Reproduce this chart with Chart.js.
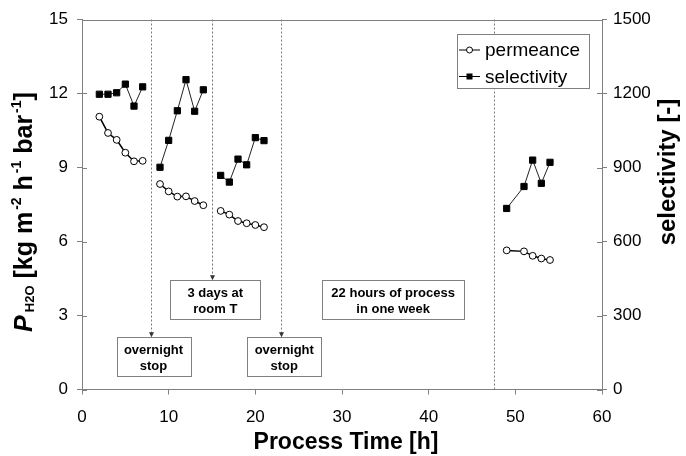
<!DOCTYPE html>
<html>
<head>
<meta charset="utf-8">
<script src="https://cdn.jsdelivr.net/npm/chart.js@4.4.0/dist/chart.umd.min.js"></script>
<style>
  html, body { margin: 0; padding: 0; background: #fff; }
  #wrap { width: 686px; height: 456px; }
</style>
</head>
<body>
<div id="wrap"><canvas id="chart" width="686" height="456"></canvas></div>
<script>
// process runs: time [h], water permeance [kg m-2 h-1 bar-1], selectivity [-]
const run1Time = [2, 3, 4, 5, 6, 7];
const run1Perm = [11.06, 10.40, 10.12, 9.60, 9.25, 9.27];
const run1Sel = [1197, 1197, 1203, 1238, 1149, 1227];

const run2Time = [9, 10, 11, 12, 13, 14];
const run2Perm = [8.33, 8.03, 7.82, 7.83, 7.64, 7.47];
const run2Sel = [901, 1010, 1130, 1256, 1128, 1215];

const run3Time = [16, 17, 18, 19, 20, 21];
const run3Perm = [7.24, 7.09, 6.83, 6.74, 6.67, 6.58];
const run3Sel = [868, 841, 934, 911, 1021, 1009];

const run4Time = [49, 51, 52, 53, 54];
const run4Perm = [5.64, 5.60, 5.42, 5.31, 5.25];
const run4Sel = [734, 823, 930, 836, 921];

const xTicks = [0, 10, 20, 30, 40, 50, 60];
const permTicks = [0, 3, 6, 9, 12, 15];
const selTicks = [0, 300, 600, 900, 1200, 1500];

// interruptions of the process (time in h) and their notes
const stopTimes = [8, 15, 23, 47.5];
const stopNotes = [['overnight', 'stop'], ['3 days at', 'room T'], ['overnight', 'stop'], ['22 hours of process', 'in one week']];

const FONT = "'Liberation Sans', Arial, sans-serif";
const AXIS = '#808080';

const runs = [
  [run1Time, run1Perm, run1Sel],
  [run2Time, run2Perm, run2Sel],
  [run3Time, run3Perm, run3Sel],
  [run4Time, run4Perm, run4Sel]
];

const datasets = [];
runs.forEach(([t, p, s]) => {
  datasets.push({
    label: 'permeance',
    yAxisID: 'y',
    data: t.map((v, i) => ({x: v, y: p[i]})),
    showLine: true,
    borderColor: '#000',
    borderWidth: 1.5,
    pointStyle: 'circle',
    pointRadius: 3.4,
    pointBackgroundColor: '#fff',
    pointBorderColor: '#000',
    pointBorderWidth: 1
  });
  datasets.push({
    label: 'selectivity',
    yAxisID: 'y2',
    data: t.map((v, i) => ({x: v, y: s[i]})),
    showLine: true,
    borderColor: '#222',
    borderWidth: 1,
    pointStyle: 'rect',
    pointRadius: 4.4,
    pointBackgroundColor: '#000',
    pointBorderColor: '#000',
    pointBorderWidth: 1
  });
});

// where the note boxes sit: centre x and top y in data units, size in px
const boxes = [
  {x: 8.25, top: 2.12, w: 74, h: 39, arrow: true},
  {x: 15.38, top: 4.43, w: 90, h: 39, arrow: true},
  {x: 23.34, top: 2.12, w: 74, h: 39, arrow: true},
  {x: 35.9, top: 4.43, w: 142, h: 39, arrow: false}
];

const decor = {
  id: 'decor',
  beforeDatasetsDraw(chart) {
    const {ctx, chartArea: a, scales: {x, y}} = chart;
    ctx.save();
    ctx.strokeStyle = '#7a7a7a';
    ctx.lineWidth = 1;
    ctx.setLineDash([2, 2]);
    stopTimes.forEach((t, i) => {
      const px = Math.round(x.getPixelForValue(t)) + 0.5;
      const b = boxes[i];
      const end = b.arrow ? y.getPixelForValue(b.top) - 1 : a.bottom;
      ctx.beginPath();
      ctx.moveTo(px, a.top);
      ctx.lineTo(px, end);
      ctx.stroke();
    });
    ctx.setLineDash([]);
    ctx.fillStyle = '#333';
    stopTimes.forEach((t, i) => {
      const b = boxes[i];
      if (!b.arrow) return;
      const px = Math.round(x.getPixelForValue(t)) + 0.5;
      const end = y.getPixelForValue(b.top);
      ctx.beginPath();
      ctx.moveTo(px - 2.5, end - 5);
      ctx.lineTo(px + 2.5, end - 5);
      ctx.lineTo(px, end);
      ctx.closePath();
      ctx.fill();
    });
    ctx.restore();
  },
  afterDatasetsDraw(chart) {
    const {ctx, chartArea: a, scales: {x, y, y2}} = chart;
    ctx.save();
    // frame top + inward ticks
    ctx.strokeStyle = AXIS;
    ctx.lineWidth = 1;
    ctx.beginPath();
    ctx.moveTo(a.left, Math.round(a.top) + 0.5);
    ctx.lineTo(a.right, Math.round(a.top) + 0.5);
    permTicks.forEach(v => {
      const py = Math.round(y.getPixelForValue(v)) + 0.5;
      ctx.moveTo(a.left, py);
      ctx.lineTo(a.left + 5, py);
    });
    selTicks.forEach(v => {
      const py = Math.round(y2.getPixelForValue(v)) + 0.5;
      ctx.moveTo(a.right, py);
      ctx.lineTo(a.right - 5, py);
    });
    ctx.stroke();

    // note boxes
    ctx.font = 'bold 13px ' + FONT;
    ctx.textAlign = 'center';
    ctx.textBaseline = 'middle';
    boxes.forEach((b, i) => {
      const cx = x.getPixelForValue(b.x);
      const top = Math.round(y.getPixelForValue(b.top)) + 0.5;
      const left = Math.round(cx - b.w / 2) + 0.5;
      ctx.fillStyle = '#fff';
      ctx.fillRect(left, top, b.w, b.h);
      ctx.strokeStyle = AXIS;
      ctx.strokeRect(left, top, b.w, b.h);
      ctx.fillStyle = '#000';
      const lines = stopNotes[i];
      ctx.fillText(lines[0], cx, top + 12.5);
      ctx.fillText(lines[1], cx, top + 29);
    });

    // legend
    const lx = 457.5, ly = 34.5, lw = 132, lh = 54;
    ctx.fillStyle = '#fff';
    ctx.fillRect(lx, ly, lw, lh);
    ctx.strokeStyle = AXIS;
    ctx.strokeRect(lx, ly, lw, lh);
    const rows = [
      {text: 'permeance', y: 50, style: 'circle'},
      {text: 'selectivity', y: 76.5, style: 'rect'}
    ];
    rows.forEach(r => {
      ctx.strokeStyle = '#000';
      ctx.lineWidth = 1;
      ctx.beginPath();
      ctx.moveTo(459, r.y);
      ctx.lineTo(480, r.y);
      ctx.stroke();
      if (r.style === 'circle') {
        ctx.beginPath();
        ctx.arc(469.5, r.y, 3, 0, Math.PI * 2);
        ctx.fillStyle = '#fff';
        ctx.fill();
        ctx.stroke();
      } else {
        ctx.fillStyle = '#000';
        ctx.fillRect(466.5, r.y - 3, 6, 6);
      }
      ctx.fillStyle = '#000';
      ctx.font = '19px ' + FONT;
      ctx.textAlign = 'left';
      ctx.textBaseline = 'middle';
      ctx.fillText(r.text, 485, r.y + 1);
    });

    // axis titles
    ctx.fillStyle = '#000';
    ctx.textAlign = 'center';
    ctx.textBaseline = 'middle';
    ctx.font = 'bold 23px ' + FONT;
    ctx.fillText('Process Time [h]', 346, 443);

    ctx.save();
    ctx.translate(668, 172);
    ctx.rotate(-Math.PI / 2);
    ctx.font = 'bold 24px ' + FONT;
    ctx.fillText('selectivity [-]', 0, 0);
    ctx.restore();

    // left title with sub/superscripts
    const parts = [
      {t: 'P', f: 'italic bold 25px ', dy: 0},
      {t: 'H2O', f: 'bold 13px ', dy: 5, pre: 3},
      {t: ' [kg m', f: 'bold 25px ', dy: 0},
      {t: '-2', f: 'bold 14px ', dy: -8, pre: 2},
      {t: ' h', f: 'bold 25px ', dy: 0},
      {t: '-1', f: 'bold 14px ', dy: -8, pre: 2},
      {t: ' bar', f: 'bold 25px ', dy: 0},
      {t: '-1', f: 'bold 14px ', dy: -8, pre: 2},
      {t: ']', f: 'bold 25px ', dy: 0}
    ];
    let total = 0;
    parts.forEach(p => {
      ctx.font = p.f + FONT;
      p.w = ctx.measureText(p.t).width + (p.pre || 0);
      total += p.w;
    });
    ctx.save();
    ctx.translate(25, 212);
    ctx.rotate(-Math.PI / 2);
    ctx.textAlign = 'left';
    let cur = -total / 2;
    parts.forEach(p => {
      ctx.font = p.f + FONT;
      ctx.fillText(p.t, cur + (p.pre || 0), p.dy);
      cur += p.w;
    });
    ctx.restore();

    ctx.restore();
  }
};

const tickFont = {family: FONT, size: 17};
const plain = v => String(v);

new Chart(document.getElementById('chart'), {
  type: 'scatter',
  data: {datasets},
  options: {
    responsive: false,
    animation: false,
    layout: {padding: {top: 19.5, left: 0, right: 0, bottom: 0}},
    plugins: {legend: {display: false}, tooltip: {enabled: false}},
    scales: {
      x: {
        type: 'linear',
        position: 'bottom',
        min: 0,
        max: 60,
        afterBuildTicks: s => { s.ticks = xTicks.map(v => ({value: v})); },
        afterFit: s => { s.height = 66.5; },
        ticks: {color: '#000', font: tickFont, padding: 13, callback: plain},
        grid: {drawOnChartArea: false, drawTicks: true, tickLength: 5, color: AXIS},
        border: {color: AXIS, width: 1}
      },
      y: {
        position: 'left',
        min: 0,
        max: 15,
        afterBuildTicks: s => { s.ticks = permTicks.map(v => ({value: v})); },
        afterFit: s => { s.width = 82; },
        ticks: {color: '#000', font: tickFont, padding: 9, callback: plain},
        grid: {drawOnChartArea: false, drawTicks: true, tickLength: 5, color: AXIS},
        border: {color: AXIS, width: 1}
      },
      y2: {
        position: 'right',
        min: 0,
        max: 1500,
        afterBuildTicks: s => { s.ticks = selTicks.map(v => ({value: v})); },
        afterFit: s => { s.width = 84; },
        ticks: {color: '#000', font: tickFont, padding: 6, callback: plain},
        grid: {drawOnChartArea: false, drawTicks: true, tickLength: 5, color: AXIS},
        border: {color: AXIS, width: 1}
      }
    }
  },
  plugins: [decor]
});
</script>
</body>
</html>
